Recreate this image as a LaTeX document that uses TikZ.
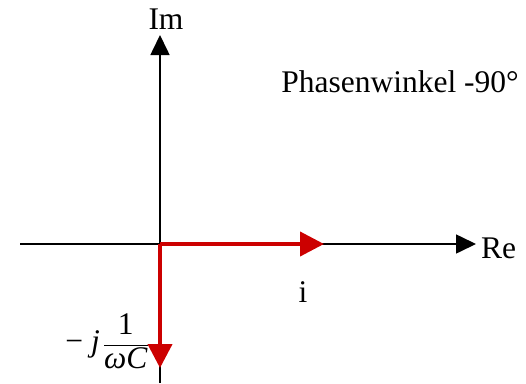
\documentclass[tikz,border=0pt]{standalone}
\usepackage{fontspec}
\setmainfont{Liberation Serif}
\usetikzlibrary{arrows.meta}
\definecolor{phred}{RGB}{204,0,0}
\tikzset{
  axis/.style={line width=1.6pt, -{Triangle[length=20pt,width=19pt]}},
  phasor/.style={phred, line width=4pt, -{Triangle[length=24pt,width=24pt]}},
  lbl/.style={inner sep=0pt, font=\fontsize{31.5}{38}\selectfont}
}
\begin{document}
\begin{tikzpicture}[x=1pt,y=1pt]
\useasboundingbox (0,0) rectangle (526,-383);
\coordinate (O) at (160,-244);
\coordinate (xl) at (20,-244);
\coordinate (xr) at (476,-244);
\coordinate (yb) at (160,-383);
\coordinate (yt) at (160,-35);
\coordinate (ie) at (324,-244);
\coordinate (ue) at (160,-368);
\draw[line width=1.6pt] (xl) -- (O);
\draw[axis] (O) -- (xr);
\draw[axis] (yb) -- (yt);
\draw[phasor] (O) -- (ie);
\draw[phasor] (O) -- (ue);
\node[lbl, anchor=base] (im) at (166,-29) {Im};
\node[lbl, anchor=base west] (re) at (481,-258) {Re};
\node[lbl, anchor=base] (i) at (303,-302) {i};
\node[lbl, anchor=base east] (ph) at (519,-92) {Phasenwinkel -90°};
\node[lbl, anchor=east] (xc) at (149,-341) {−\hspace{8pt}\textit{j}\hspace{3pt}$\displaystyle\frac{\mbox{1}}{\mbox{\textit{ωC}}}$};
\end{tikzpicture}
\end{document}
